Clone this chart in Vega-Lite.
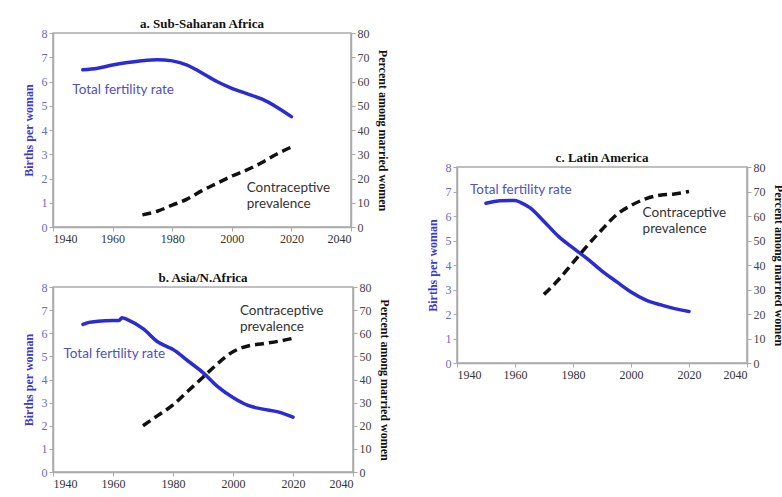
{
  "$schema": "https://vega.github.io/schema/vega-lite/v6.json",
  "padding": {"left": 21, "top": 17, "right": 0, "bottom": 0},
  "background": "white",
  "config": {
    "font": "Liberation Serif",
    "view": {"stroke": "#aaaaaa", "strokeWidth": 1.5},
    "axis": {"grid": false, "domainColor": "#aaaaaa", "domainWidth": 1.5, "tickColor": "#aaaaaa", "tickSize": 4, "labelPadding": 2, "labelFont": "Liberation Serif", "labelFontSize": 12, "labelColor": "#444444", "titleFont": "Liberation Serif", "titleFontSize": 12, "titleFontWeight": "bold", "titlePadding": 6},
    "title": {"font": "Liberation Serif", "fontSize": 13, "fontWeight": "bold", "color": "#111111", "offset": -4},
    "concat": {"spacing": 20}
  },
  "datasets": {
    "rows": [
      {"panel": "a", "kind": "tfr", "year": 1950, "value": 6.48},
      {"panel": "a", "kind": "tfr", "year": 1955, "value": 6.55},
      {"panel": "a", "kind": "tfr", "year": 1960, "value": 6.68},
      {"panel": "a", "kind": "tfr", "year": 1965, "value": 6.78},
      {"panel": "a", "kind": "tfr", "year": 1970, "value": 6.86},
      {"panel": "a", "kind": "tfr", "year": 1975, "value": 6.9},
      {"panel": "a", "kind": "tfr", "year": 1980, "value": 6.85},
      {"panel": "a", "kind": "tfr", "year": 1985, "value": 6.68},
      {"panel": "a", "kind": "tfr", "year": 1990, "value": 6.35},
      {"panel": "a", "kind": "tfr", "year": 1995, "value": 6.0},
      {"panel": "a", "kind": "tfr", "year": 2000, "value": 5.72},
      {"panel": "a", "kind": "tfr", "year": 2005, "value": 5.5},
      {"panel": "a", "kind": "tfr", "year": 2010, "value": 5.28},
      {"panel": "a", "kind": "tfr", "year": 2015, "value": 4.95},
      {"panel": "a", "kind": "tfr", "year": 2020, "value": 4.55},
      {"panel": "a", "kind": "cp", "year": 1970, "value": 5},
      {"panel": "a", "kind": "cp", "year": 1975, "value": 6.5},
      {"panel": "a", "kind": "cp", "year": 1980, "value": 9},
      {"panel": "a", "kind": "cp", "year": 1985, "value": 11.5},
      {"panel": "a", "kind": "cp", "year": 1990, "value": 15},
      {"panel": "a", "kind": "cp", "year": 1995, "value": 18},
      {"panel": "a", "kind": "cp", "year": 2000, "value": 21},
      {"panel": "a", "kind": "cp", "year": 2005, "value": 23.5},
      {"panel": "a", "kind": "cp", "year": 2010, "value": 26.5},
      {"panel": "a", "kind": "cp", "year": 2015, "value": 30},
      {"panel": "a", "kind": "cp", "year": 2020, "value": 33},
      {"panel": "a", "kind": "tfrLabel", "year": 1946.5, "value": 5.65, "text": "Total fertility rate"},
      {"panel": "a", "kind": "cpLabel", "year": 2005, "value": 19, "text": "Contraceptive\nprevalence"},

      {"panel": "b", "kind": "tfr", "year": 1950, "value": 6.38},
      {"panel": "b", "kind": "tfr", "year": 1952, "value": 6.47},
      {"panel": "b", "kind": "tfr", "year": 1955, "value": 6.52},
      {"panel": "b", "kind": "tfr", "year": 1960, "value": 6.55},
      {"panel": "b", "kind": "tfr", "year": 1962, "value": 6.55},
      {"panel": "b", "kind": "tfr", "year": 1963, "value": 6.67},
      {"panel": "b", "kind": "tfr", "year": 1965, "value": 6.58},
      {"panel": "b", "kind": "tfr", "year": 1970, "value": 6.2},
      {"panel": "b", "kind": "tfr", "year": 1975, "value": 5.62},
      {"panel": "b", "kind": "tfr", "year": 1978, "value": 5.42},
      {"panel": "b", "kind": "tfr", "year": 1980, "value": 5.3},
      {"panel": "b", "kind": "tfr", "year": 1985, "value": 4.8},
      {"panel": "b", "kind": "tfr", "year": 1990, "value": 4.3},
      {"panel": "b", "kind": "tfr", "year": 1995, "value": 3.68},
      {"panel": "b", "kind": "tfr", "year": 2000, "value": 3.22},
      {"panel": "b", "kind": "tfr", "year": 2005, "value": 2.88},
      {"panel": "b", "kind": "tfr", "year": 2010, "value": 2.72},
      {"panel": "b", "kind": "tfr", "year": 2015, "value": 2.6},
      {"panel": "b", "kind": "tfr", "year": 2020, "value": 2.37},
      {"panel": "b", "kind": "cp", "year": 1970, "value": 20},
      {"panel": "b", "kind": "cp", "year": 1975, "value": 24.5},
      {"panel": "b", "kind": "cp", "year": 1980, "value": 29},
      {"panel": "b", "kind": "cp", "year": 1985, "value": 35},
      {"panel": "b", "kind": "cp", "year": 1990, "value": 41},
      {"panel": "b", "kind": "cp", "year": 1995, "value": 47},
      {"panel": "b", "kind": "cp", "year": 2000, "value": 52},
      {"panel": "b", "kind": "cp", "year": 2005, "value": 54.5},
      {"panel": "b", "kind": "cp", "year": 2010, "value": 55.5},
      {"panel": "b", "kind": "cp", "year": 2015, "value": 56.5},
      {"panel": "b", "kind": "cp", "year": 2020, "value": 57.8},
      {"panel": "b", "kind": "tfrLabel", "year": 1943.5, "value": 5.1, "text": "Total fertility rate"},
      {"panel": "b", "kind": "cpLabel", "year": 2002.3, "value": 72.7, "text": "Contraceptive\nprevalence"},

      {"panel": "c", "kind": "tfr", "year": 1950, "value": 6.52},
      {"panel": "c", "kind": "tfr", "year": 1955, "value": 6.62},
      {"panel": "c", "kind": "tfr", "year": 1960, "value": 6.63},
      {"panel": "c", "kind": "tfr", "year": 1962, "value": 6.55},
      {"panel": "c", "kind": "tfr", "year": 1965, "value": 6.35},
      {"panel": "c", "kind": "tfr", "year": 1970, "value": 5.78},
      {"panel": "c", "kind": "tfr", "year": 1975, "value": 5.17},
      {"panel": "c", "kind": "tfr", "year": 1980, "value": 4.7},
      {"panel": "c", "kind": "tfr", "year": 1985, "value": 4.25},
      {"panel": "c", "kind": "tfr", "year": 1990, "value": 3.75},
      {"panel": "c", "kind": "tfr", "year": 1995, "value": 3.32},
      {"panel": "c", "kind": "tfr", "year": 2000, "value": 2.9},
      {"panel": "c", "kind": "tfr", "year": 2005, "value": 2.58},
      {"panel": "c", "kind": "tfr", "year": 2010, "value": 2.38},
      {"panel": "c", "kind": "tfr", "year": 2015, "value": 2.22},
      {"panel": "c", "kind": "tfr", "year": 2020, "value": 2.1},
      {"panel": "c", "kind": "cp", "year": 1970, "value": 28},
      {"panel": "c", "kind": "cp", "year": 1975, "value": 34},
      {"panel": "c", "kind": "cp", "year": 1980, "value": 41},
      {"panel": "c", "kind": "cp", "year": 1985, "value": 48},
      {"panel": "c", "kind": "cp", "year": 1990, "value": 54.5},
      {"panel": "c", "kind": "cp", "year": 1995, "value": 60.5},
      {"panel": "c", "kind": "cp", "year": 2000, "value": 64.3},
      {"panel": "c", "kind": "cp", "year": 2005, "value": 67},
      {"panel": "c", "kind": "cp", "year": 2010, "value": 68.5},
      {"panel": "c", "kind": "cp", "year": 2015, "value": 69},
      {"panel": "c", "kind": "cp", "year": 2020, "value": 70},
      {"panel": "c", "kind": "tfrLabel", "year": 1944.5, "value": 7.06, "text": "Total fertility rate"},
      {"panel": "c", "kind": "cpLabel", "year": 2004, "value": 64, "text": "Contraceptive\nprevalence"}
    ]
  },
  "spacing": 34,
  "hconcat": [
    {
      "spacing": 26,
      "vconcat": [
        {
          "title": "a. Sub-Saharan Africa",
          "width": 298, "height": 194,
          "data": {"name": "rows"},
          "transform": [{"filter": "datum.panel == 'a'"}],
          "encoding": {"x": {"field": "year", "type": "quantitative", "scale": {"domain": [1940, 2040], "nice": false, "zero": false}, "axis": {"title": null, "values": [1940, 1960, 1980, 2000, 2020, 2040], "format": "d", "labelColor": "#333333"}}},
          "layer": [
            {
              "encoding": {"y": {"field": "value", "type": "quantitative", "scale": {"domain": [0, 8], "nice": false}, "axis": {"orient": "left", "title": "Births per woman", "titleColor": "#3a3acc", "labelColor": "#6a6acc", "values": [0, 1, 2, 3, 4, 5, 6, 7, 8]}}},
              "layer": [
                {"transform": [{"filter": "datum.kind == 'tfr'"}], "mark": {"type": "line", "color": "#2b2bd4", "strokeWidth": 3.5, "interpolate": "monotone", "strokeCap": "round"}},
                {"transform": [{"filter": "datum.kind == 'tfrLabel'"}], "mark": {"type": "text", "font": "Lato", "fontSize": 13.5, "color": "#5050c4", "align": "left", "baseline": "middle"}, "encoding": {"text": {"field": "text"}}}
              ]
            },
            {
              "encoding": {"y": {"field": "value", "type": "quantitative", "scale": {"domain": [0, 80], "nice": false}, "axis": {"orient": "right", "title": "Percent among married women", "titleColor": "#111111", "labelColor": "#444444", "values": [0, 10, 20, 30, 40, 50, 60, 70, 80]}}},
              "layer": [
                {"transform": [{"filter": "datum.kind == 'cp'"}], "mark": {"type": "line", "color": "#111111", "strokeWidth": 3.5, "strokeDash": [9, 5], "interpolate": "monotone"}},
                {"transform": [{"filter": "datum.kind == 'cpLabel'"}], "mark": {"type": "text", "font": "Lato", "fontSize": 13.5, "color": "#333333", "align": "left", "baseline": "top", "lineBreak": "\n", "lineHeight": 16}, "encoding": {"text": {"field": "text"}}}
              ]
            }
          ],
          "resolve": {"scale": {"y": "independent"}}
        },
        {
          "title": "b. Asia/N.Africa",
          "width": 300, "height": 185,
          "data": {"name": "rows"},
          "transform": [{"filter": "datum.panel == 'b'"}],
          "encoding": {"x": {"field": "year", "type": "quantitative", "scale": {"domain": [1940, 2040], "nice": false, "zero": false}, "axis": {"title": null, "values": [1940, 1960, 1980, 2000, 2020, 2040], "format": "d", "labelColor": "#333333"}}},
          "layer": [
            {
              "encoding": {"y": {"field": "value", "type": "quantitative", "scale": {"domain": [0, 8], "nice": false}, "axis": {"orient": "left", "title": "Births per woman", "titleColor": "#3a3acc", "labelColor": "#6a6acc", "values": [0, 1, 2, 3, 4, 5, 6, 7, 8]}}},
              "layer": [
                {"transform": [{"filter": "datum.kind == 'tfr'"}], "mark": {"type": "line", "color": "#2b2bd4", "strokeWidth": 3.5, "interpolate": "monotone", "strokeCap": "round"}},
                {"transform": [{"filter": "datum.kind == 'tfrLabel'"}], "mark": {"type": "text", "font": "Lato", "fontSize": 13.5, "color": "#5050c4", "align": "left", "baseline": "middle"}, "encoding": {"text": {"field": "text"}}}
              ]
            },
            {
              "encoding": {"y": {"field": "value", "type": "quantitative", "scale": {"domain": [0, 80], "nice": false}, "axis": {"orient": "right", "title": "Percent among married women", "titleColor": "#111111", "labelColor": "#444444", "values": [0, 10, 20, 30, 40, 50, 60, 70, 80]}}},
              "layer": [
                {"transform": [{"filter": "datum.kind == 'cp'"}], "mark": {"type": "line", "color": "#111111", "strokeWidth": 3.5, "strokeDash": [9, 5], "interpolate": "monotone"}},
                {"transform": [{"filter": "datum.kind == 'cpLabel'"}], "mark": {"type": "text", "font": "Lato", "fontSize": 13.5, "color": "#333333", "align": "left", "baseline": "top", "lineBreak": "\n", "lineHeight": 16}, "encoding": {"text": {"field": "text"}}}
              ]
            }
          ],
          "resolve": {"scale": {"y": "independent"}}
        }
      ]
    },
    {
      "spacing": 0,
      "vconcat": [
        {"width": 10, "height": 118, "data": {"values": []}, "mark": "point", "view": {"stroke": null}},
        {
          "title": "c. Latin America",
          "width": 290, "height": 196,
          "data": {"name": "rows"},
          "transform": [{"filter": "datum.panel == 'c'"}],
          "encoding": {"x": {"field": "year", "type": "quantitative", "scale": {"domain": [1940, 2040], "nice": false, "zero": false}, "axis": {"title": null, "values": [1940, 1960, 1980, 2000, 2020, 2040], "format": "d", "labelColor": "#333333"}}},
          "layer": [
            {
              "encoding": {"y": {"field": "value", "type": "quantitative", "scale": {"domain": [0, 8], "nice": false}, "axis": {"orient": "left", "title": "Births per woman", "titleColor": "#3a3acc", "labelColor": "#6a6acc", "values": [0, 1, 2, 3, 4, 5, 6, 7, 8]}}},
              "layer": [
                {"transform": [{"filter": "datum.kind == 'tfr'"}], "mark": {"type": "line", "color": "#2b2bd4", "strokeWidth": 3.5, "interpolate": "monotone", "strokeCap": "round"}},
                {"transform": [{"filter": "datum.kind == 'tfrLabel'"}], "mark": {"type": "text", "font": "Lato", "fontSize": 13.5, "color": "#5050c4", "align": "left", "baseline": "middle"}, "encoding": {"text": {"field": "text"}}}
              ]
            },
            {
              "encoding": {"y": {"field": "value", "type": "quantitative", "scale": {"domain": [0, 80], "nice": false}, "axis": {"orient": "right", "title": "Percent among married women", "titleColor": "#111111", "labelColor": "#444444", "values": [0, 10, 20, 30, 40, 50, 60, 70, 80]}}},
              "layer": [
                {"transform": [{"filter": "datum.kind == 'cp'"}], "mark": {"type": "line", "color": "#111111", "strokeWidth": 3.5, "strokeDash": [9, 5], "interpolate": "monotone"}},
                {"transform": [{"filter": "datum.kind == 'cpLabel'"}], "mark": {"type": "text", "font": "Lato", "fontSize": 13.5, "color": "#333333", "align": "left", "baseline": "top", "lineBreak": "\n", "lineHeight": 16}, "encoding": {"text": {"field": "text"}}}
              ]
            }
          ],
          "resolve": {"scale": {"y": "independent"}}
        }
      ]
    }
  ]
}
